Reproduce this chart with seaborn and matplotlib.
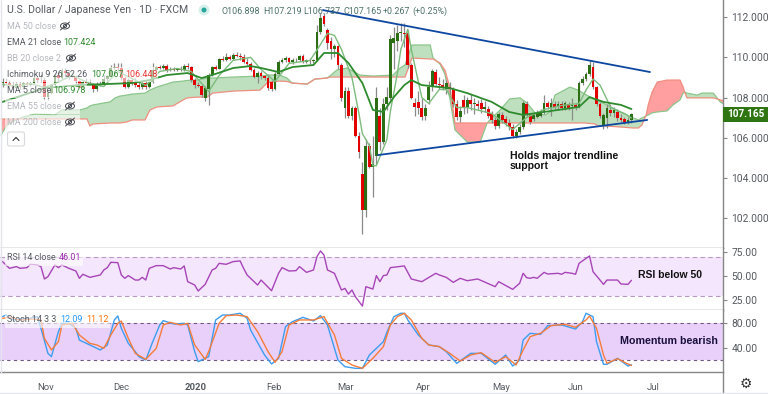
import numpy as np
import matplotlib
matplotlib.use('Agg')
import matplotlib.pyplot as plt
from matplotlib.patches import Ellipse, Circle, Rectangle, FancyBboxPatch
import seaborn as sns

# candles, one entry per daily bar
opens = [108.70,108.75,108.72,108.62,108.45,108.65,108.50,108.70,108.62,108.70,
         108.95,108.85,108.88,108.05,108.20,108.60,109.10,108.95,109.30,109.22,
         109.05,109.02,108.80,108.45,108.75,108.70,108.62,108.40,108.60,108.65,
         108.92,109.05,109.48,109.50,109.45,108.95,108.52,108.85,108.72,108.60,
         108.50,108.70,108.52,108.75,109.35,109.50,109.45,109.58,109.35,109.42,
         109.38,109.42,109.38,109.58,109.50,108.85,108.62,108.58,108.00,108.42,
         109.10,109.50,109.42,109.90,109.85,110.00,109.92,110.12,110.08,110.02,
         109.78,109.65,109.35,109.00,109.20,109.05,108.95,108.75,108.42,109.15,
         109.75,109.85,109.98,109.78,109.85,109.88,110.05,109.78,109.88,109.80,
         109.85,111.25,112.05,111.35,110.80,110.40,110.55,109.60,107.50,108.30,
         107.10,107.50,106.10,104.20,102.40,105.60,104.55,105.10,107.10,105.80,
         107.70,108.00,110.70,110.80,111.20,111.20,111.20,109.60,107.75,107.80,
         107.50,107.10,107.90,108.50,109.25,108.65,108.60,108.40,108.50,108.40,
         107.70,107.05,107.90,107.50,107.90,107.70,107.70,107.75,107.45,107.45,
         107.25,106.90,106.60,107.15,106.95,106.75,106.55,106.10,106.30,106.55,
         107.70,107.15,106.95,107.05,107.10,107.30,107.75,107.50,107.70,107.55,
         107.70,107.50,107.70,107.60,107.65,107.55,108.70,108.90,109.15,109.50,
         108.50,107.70,106.65,107.00,107.40,107.25,107.30,107.00,106.95,106.80,106.898]
highs = [108.95,108.95,108.85,108.78,108.78,108.75,108.78,108.78,108.75,109.05,
         109.05,109.10,109.00,108.35,108.65,109.25,109.20,109.45,109.45,109.30,
         109.25,109.10,108.85,108.85,108.95,108.90,108.70,108.75,108.80,109.10,
         109.10,109.60,109.70,109.70,109.72,109.05,108.95,108.95,108.95,108.75,
         108.75,108.85,108.88,109.70,109.55,109.60,109.68,109.65,109.50,109.50,
         109.48,109.55,109.65,109.70,109.58,108.95,108.75,108.62,108.55,109.20,
         109.55,109.60,109.95,110.05,110.20,110.10,110.20,110.25,110.20,110.15,
         109.95,109.75,109.45,109.30,109.30,109.10,109.15,108.85,109.25,109.85,
         109.95,110.05,110.02,109.95,109.95,110.12,110.15,109.92,109.95,109.90,
         111.60,112.20,112.20,111.45,111.00,110.65,110.60,109.70,108.50,108.50,
         107.60,107.60,106.30,104.80,105.95,105.75,106.10,108.50,107.50,108.00,
         108.50,111.10,111.50,111.60,111.70,111.70,111.35,109.70,108.00,108.30,
         108.00,107.70,108.80,109.40,109.40,109.00,108.90,108.85,108.75,108.50,
         107.90,107.60,108.10,108.05,108.15,108.00,107.90,107.95,107.85,107.60,
         107.35,107.05,107.30,107.30,107.10,106.95,106.70,106.45,106.70,107.85,
         107.85,107.25,107.25,107.40,107.45,108.10,107.85,108.00,107.85,107.85,
         107.85,107.85,107.80,108.00,107.75,108.80,109.05,109.25,109.85,109.75,
         108.55,107.80,107.25,107.70,107.70,107.55,107.45,107.20,107.05,107.05,107.219]
lows = [108.50,108.60,108.55,108.35,108.40,108.40,108.42,108.55,108.58,108.65,
        108.75,108.75,107.90,107.90,108.15,108.55,108.80,108.90,109.00,108.90,
        109.00,108.65,108.40,108.40,108.60,108.60,108.25,108.30,108.55,108.60,
        108.80,109.00,109.40,109.35,108.85,108.45,108.45,108.60,108.50,108.40,
        108.40,108.40,108.45,108.70,109.25,109.40,109.42,109.28,109.30,109.32,
        109.30,109.30,109.30,109.40,108.75,108.45,108.50,108.05,107.85,107.65,
        109.05,109.35,109.40,109.80,109.80,109.88,109.85,110.00,109.88,109.70,
        109.60,109.30,108.95,108.70,108.90,108.85,108.35,108.30,108.35,109.10,
        109.70,109.75,109.70,109.65,109.75,109.82,109.72,109.72,109.65,109.72,
        109.80,111.15,111.55,110.40,109.90,110.00,109.40,107.85,107.00,107.00,
        106.90,106.05,105.00,101.20,102.05,104.50,103.05,104.70,105.40,105.70,
        107.40,107.90,109.40,110.30,110.80,110.50,109.45,107.95,107.10,107.20,
        106.90,106.90,107.70,108.30,108.60,108.40,108.35,108.15,108.10,107.55,
        106.90,106.80,107.20,107.25,107.40,107.20,107.40,107.25,107.30,107.00,
        106.75,106.45,106.50,106.75,106.60,106.40,106.00,106.00,106.20,106.45,
        107.05,106.70,106.85,107.00,107.05,107.20,107.45,107.10,107.45,107.40,
        107.40,107.40,107.40,106.90,107.40,107.50,108.60,108.80,109.05,108.40,
        107.60,107.00,106.45,106.50,107.10,107.05,106.85,106.80,106.70,106.70,106.737]
closes = [108.75,108.72,108.62,108.45,108.65,108.50,108.70,108.62,108.70,108.95,
          108.85,108.88,108.05,108.20,108.60,109.10,108.95,109.30,109.22,109.05,
          109.02,108.80,108.45,108.75,108.70,108.62,108.40,108.60,108.65,108.92,
          109.05,109.48,109.50,109.45,108.95,108.52,108.85,108.72,108.60,108.50,
          108.70,108.52,108.75,109.35,109.50,109.45,109.58,109.35,109.42,109.38,
          109.42,109.38,109.58,109.50,108.85,108.62,108.58,108.12,108.45,109.10,
          109.50,109.42,109.90,109.85,110.00,109.92,110.12,110.08,110.02,109.78,
          109.65,109.35,109.00,109.20,109.05,108.95,108.45,108.42,109.15,109.75,
          109.85,109.98,109.78,109.85,109.88,110.05,109.78,109.88,109.80,109.85,
          111.25,111.95,111.65,110.70,110.40,110.55,109.60,108.00,108.30,107.10,
          107.50,106.10,105.30,102.40,105.60,104.55,104.70,108.00,105.80,107.70,
          108.05,110.90,110.95,111.20,111.25,111.15,109.60,108.00,107.55,107.50,
          107.05,107.50,108.50,109.30,108.65,108.60,108.50,108.70,108.40,107.70,
          107.05,107.35,107.50,107.90,107.70,107.75,107.60,107.45,107.55,107.10,
          106.90,106.60,107.20,106.90,106.75,106.55,106.10,106.30,106.55,107.75,
          107.15,106.80,107.15,107.25,107.35,107.75,107.55,107.75,107.55,107.70,
          107.50,107.75,107.50,107.65,107.50,108.70,108.90,109.15,109.60,108.50,
          107.70,107.10,107.15,107.50,107.25,107.40,107.00,106.90,106.80,106.90,107.165]

# EMA 21
ema_bar = [0,12,22,37,42,47,53,57,60,66,71,74,79,83,89,92,96,99,103,106,109,112,115,
           117,120,125,128,133,140,145,149,155,165,168,172,177,180]
ema_val = [107.78,108.47,108.62,108.72,108.87,109.12,109.22,108.97,109.12,109.47,109.57,
           109.47,109.27,109.52,109.62,110.22,110.22,109.72,108.72,107.38,107.28,108.02,
           108.62,108.87,108.62,108.52,108.47,108.22,107.78,107.28,107.13,107.28,107.53,
           108.02,107.78,107.63,107.424]

# MA 5
ma5_bar = [0,4,8,12,15,20,25,29,33,37,41,45,50,54,59,62,66,71,74,78,82,88,90,93,95,97,
           100,102,103,105,106,107,110,111,113,114,116,117,120,122,125,127,130,133,140,
           146,150,155,160,165,167,169,171,173,174,178,180]
ma5_val = [108.65,108.55,108.70,108.50,108.70,109.10,108.70,108.55,109.30,108.95,108.60,
           109.30,109.45,109.30,108.30,109.10,109.85,110.00,109.40,108.80,109.70,109.85,
           110.37,111.20,111.10,110.40,109.00,107.20,106.20,105.60,104.60,104.60,105.90,
           107.30,109.20,110.40,111.40,110.40,108.00,107.70,108.40,108.40,107.50,107.50,
           107.20,106.40,107.00,107.40,107.60,107.70,108.37,108.92,108.62,107.90,107.50,
           107.20,106.978]

# Ichimoku cloud
cloud_bar = [-0.4,1.3,4.4,5.9,9.3,15,17,22.2,24.2,25,25.9,30.8,32.2,33.6,35.6,37.1,40.8,
             42.2,44.2,48.8,51.7,52.8,55.7,58.5,60.2,66,73.7,75.7,76.6,79.4,81.4,82.9,
             87.2,89.4,92.9,93.7,95.7,98.6,102.3,106,111.8,113.8,115.2,117.2,122.4,123.2,
             125.2,126.6,128.1,129.5,133,136.7,138.7,139.5,142.4,145.2,148.1,150.1,152.4,
             155.3,156.7,158.1,162.4,164.7,166.7,169.6,170.4,172.4,176.8,180.5,182,183,
             184.2,184.8,185.9,187.4,190.2,191.9,193.9,194.8,195.2,195.9,198.8,200.2,
             203.4,204.5,205.4,206.8]
span_a = [106.13,106.63,106.93,107.03,107.18,107.13,107.38,107.38,107.48,107.58,107.63,
          107.78,107.98,108.07,108.12,108.17,108.22,108.37,108.52,108.77,108.82,108.85,
          108.87,108.97,108.97,109.02,109.07,109.10,109.12,109.12,108.97,108.72,108.67,
          108.92,108.97,109.07,109.37,109.47,109.12,109.07,109.12,109.47,109.62,110.62,
          110.62,109.97,109.67,109.17,107.88,106.38,105.78,105.78,106.73,106.88,107.38,
          107.93,107.98,107.73,107.23,107.13,107.28,108.12,108.52,108.37,108.17,107.88,
          107.83,107.68,107.28,106.98,106.88,106.98,107.08,107.13,107.23,107.28,107.33,
          107.63,107.88,108.22,108.27,108.22,108.12,108.22,108.22,107.98,107.78,107.63]
span_b = [106.93,106.93,106.93,106.93,106.93,106.93,106.93,106.93,106.93,106.58,106.68,
          106.73,106.73,106.73,106.78,106.88,106.88,107.38,107.53,107.58,107.88,107.98,
          108.02,108.02,108.22,108.32,108.37,108.72,108.77,108.82,108.80,108.72,108.67,
          108.92,108.97,109.02,109.02,109.02,109.02,109.02,109.02,109.02,109.02,109.97,
          109.92,109.92,109.72,109.37,108.47,106.73,106.73,106.73,106.73,106.73,106.73,
          106.73,106.73,106.73,106.73,106.73,106.73,106.73,106.73,106.73,106.73,106.68,
          106.58,106.58,106.53,106.48,106.48,106.63,107.13,107.63,108.27,108.77,108.87,
          108.87,108.87,108.52,108.27,107.98,107.98,107.98,107.98,107.93,107.88,107.83]

# drawn trendlines
upper_bar = [91.7,185.3]
upper_val = [112.36,109.27]
lower_bar = [107.5,184.5]
lower_val = [105.13,106.88]

# RSI
rsi_bar = [0,1,2,4,5,7,8,10,11,12,
           13,15,16,17,19,21,22,23,25,28,
           29,30,31,33,34,35,36,38,39,40,
           41,42,44,46,48,49,51,52,53,55,
           56,58,60,61,62,64,66,68,69,70,
           73,74,77,79,80,82,84,85,87,89,
           90,91,92,93,95,97,98,99,100,101,
           103,104,106,107,108,109,110,111,115,117,
           120,124,125,127,129,131,133,136,141,142,
           146,148,149,150,151,152,153,155,156,159,
           160,161,163,164,165,168,169,171,172,173,
           176,177,179,180]
rsi_val = [65.5,62,58.5,60.3,58.5,59.2,62.7,62,60.3,47.4,
           49.8,62,59.2,62,58.5,55.7,48.1,52.3,49.1,51.6,
           56.8,59.2,64.8,64.4,51.6,48.1,50.9,46.3,46.3,49.1,
           46.3,58.5,61.3,61.3,57.8,59.2,57.8,61,44.6,41.1,
           34.9,41.8,56.8,58.5,63.7,62.7,65.5,66.2,58.5,51.6,
           41.1,46.3,35.2,53.3,59.2,55.7,56.1,60.3,54.3,56.8,
           70.7,76.6,72.4,56.8,53.3,35.9,37.6,31.7,35.9,28.9,
           19.2,39.4,36.9,50.9,44.6,50.9,51.6,59.2,61,47.4,
           44.6,53.3,51.6,49.1,43.9,48.1,45.6,47.4,39.4,44.6,
           36.6,42.9,53.3,48.8,48.1,49.1,48.1,54.3,52.6,53.3,
           52.3,54.3,53.3,52.3,63.7,71.4,55,46.3,41.8,46.3,
           46.3,42.2,41.8,46.01]

# Stochastic
k_bar = [0,1,3,5,8,10,11,13,14,16,17,19,21,22,25,28,30,32,33,34,36,38,39,41,43,45,46,49,
         52,53,55,56,59,61,63,65,68,70,71,75,77,79,81,83,86,89,91,93,96,98,101,103,105,
         109,110,112,114,115,116,119,122,125,127,130,134,137,141,144,146,148,149,151,154,
         156,160,164,166,167,169,170,172,173,176,179,180]
k_val = [90.9,93.6,85.5,87.1,88.2,90.9,71.8,30.9,25.5,66.4,80,80,71.8,52.7,44.6,36.4,44.6,
         85.5,92,71.8,47.3,33.7,25.5,20,50,77.3,84.4,78.9,80,77.3,33.7,17.3,25.5,85.5,
         93.6,93.6,96.4,88.2,69.1,28.2,13.5,22.8,74.6,82.7,89.8,83.8,92.5,77.3,20,9.1,6.4,
         6.4,28.2,50,65.3,90.9,96.4,96.4,85.5,60.9,44.6,41.9,33.7,14.6,30.9,30.9,13,28.2,
         10.2,20,52.7,63.7,62,76.2,77.3,70.7,82.7,96.4,90.9,50,13,13,22.8,10.2,12.09]
d_bar = [0,2,5,9,11,12,14,16,17,20,22,25,27,29,31,33,34,36,38,41,44,46,48,51,53,55,58,59,
         62,64,67,70,73,76,78,80,82,85,89,92,95,97,100,103,106,109,111,113,115,117,120,122,
         125,128,131,134,137,141,144,147,149,151,154,157,161,164,167,168,170,172,173,176,
         178,180]
d_val = [88.2,89.8,85.5,87.1,85.5,55.5,36.4,50,77.3,80,60.9,47.3,44.6,39.1,60.9,80,83.8,
         55.5,30.9,21.1,39.1,77.3,81.6,77.3,80,44.6,21.1,33.7,80,92.5,93.6,90.9,66.4,33.7,
         16.2,33.7,77.3,85.5,85.5,90.9,60.9,22.8,11.9,6.4,22.8,41.9,77.3,90.9,96.4,85.5,
         55.5,44.6,41.9,30.9,18.4,28.2,32,16.2,25.5,11.9,36.4,58.2,63.7,76.2,78.4,73.5,
         85.5,92,71.8,28.2,14.6,22.2,16.2,11.12]

# tick labels
price_ticks = [102,104,106,108,110,112]
rsi_ticks = [25,50,75]
stoch_ticks = [40,80]
month_bars = [12.4,33.9,55.4,77.7,98.3,120.3,142.7,164.1,186.2]
month_names = ['Nov','Dec','2020','Feb','Mar','Apr','May','Jun','Jul']

GREY = '#868686'
TEXT = '#555a60'
FADED = '#b4b7bd'


def draw_line(ax, x, y, color, lw, zorder=4):
    sns.lineplot(x=x, y=y, ax=ax, color=color, linewidth=lw, sort=False,
                 estimator=None, errorbar=None, legend=False, zorder=zorder)


def style_pane(ax, top, bottom):
    ax.set_position([0, 1 - bottom / 394, 723 / 768, (bottom - top) / 394])
    ax.set_xlim(-0.716, 206.2)
    ax.yaxis.tick_right()
    ax.set_xlabel('')
    ax.set_ylabel('')
    ax.tick_params(axis='y', length=3, width=0.8, color=GREY, labelcolor=TEXT,
                   labelsize=7.4, pad=3)
    ax.tick_params(axis='x', length=3, width=0.8, color=GREY, labelcolor=TEXT,
                   labelsize=6.8, pad=5)
    for side in ['top', 'left']:
        ax.spines[side].set_visible(False)
    for side in ['right', 'bottom']:
        ax.spines[side].set_color(GREY)
        ax.spines[side].set_linewidth(1.0)


sns.set_theme(style='white')
plt.rcParams['font.family'] = ['Roboto', 'DejaVu Sans']

fig = plt.figure(figsize=(7.68, 3.94), dpi=100)
ax_main = fig.add_axes([0, 0.5, 1, 0.5])
ax_rsi = fig.add_axes([0, 0.3, 1, 0.2])
ax_stoch = fig.add_axes([0, 0.1, 1, 0.2])

bars = np.arange(len(closes))
o = np.array(opens)
h = np.array(highs)
l = np.array(lows)
c = np.array(closes)
up = c >= o

# cloud
a = np.array(span_a)
b = np.array(span_b)
ax_main.fill_between(cloud_bar, a, b, where=a >= b, interpolate=True, color='#bfe0bf', lw=0, zorder=1)
ax_main.fill_between(cloud_bar, a, b, where=a < b, interpolate=True, color='#ff9f9f', lw=0, zorder=1)
draw_line(ax_main, cloud_bar, span_a, '#8cc68c', 0.9, zorder=2)
draw_line(ax_main, cloud_bar, span_b, '#ef8f80', 0.9, zorder=2)

# candles
ax_main.vlines(bars, l, h, color='#8a8a8a', lw=0.9, zorder=3)
ax_main.bar(bars[up], (c - o)[up], bottom=o[up], width=0.8, color='#2c6e14', lw=0, zorder=3.5)
ax_main.bar(bars[~up], (c - o)[~up], bottom=o[~up], width=0.8, color='#e30000', lw=0, zorder=3.5)

draw_line(ax_main, ma5_bar, ma5_val, '#7dbb7d', 1.0)
draw_line(ax_main, ema_bar, ema_val, '#2e8b2e', 1.3)
draw_line(ax_main, upper_bar, upper_val, '#0d47a1', 1.3, zorder=5)
draw_line(ax_main, lower_bar, lower_val, '#0d47a1', 1.3, zorder=5)

ax_main.set_ylim(100.519, 112.863)
ax_main.set_yticks(price_ticks)
ax_main.set_yticklabels([f'{t:.3f}' for t in price_ticks])
ax_main.set_xticks([])
style_pane(ax_main, 0, 247.5)

# RSI pane
ax_rsi.axhspan(30, 70, color='#f4e6fc', lw=0, zorder=1)
ax_rsi.axhline(70, color='#b79ac4', lw=0.8, ls=(0, (4, 3)), zorder=2)
ax_rsi.axhline(30, color='#b79ac4', lw=0.8, ls=(0, (4, 3)), zorder=2)
draw_line(ax_rsi, rsi_bar, rsi_val, '#a745b8', 1.0)
ax_rsi.set_ylim(15.6, 80.2)
ax_rsi.set_yticks(rsi_ticks)
ax_rsi.set_yticklabels([f'{t:.2f}' for t in rsi_ticks])
ax_rsi.set_xticks([])
style_pane(ax_rsi, 247.5, 309.5)

# Stoch pane
ax_stoch.axhspan(20, 80, color='#e8d0fb', lw=0, zorder=1)
ax_stoch.axhline(80, color='#6f5a80', lw=0.8, ls=(0, (3, 3)), zorder=2)
ax_stoch.axhline(20, color='#6f5a80', lw=0.8, ls=(0, (3, 3)), zorder=2)
draw_line(ax_stoch, k_bar, k_val, '#3d9df0', 1.0)
draw_line(ax_stoch, d_bar, d_val, '#f57c3a', 1.0)
ax_stoch.set_ylim(0.9, 102.6)
ax_stoch.set_yticks(stoch_ticks)
ax_stoch.set_yticklabels([f'{t:.2f}' for t in stoch_ticks])
ax_stoch.set_xticks(month_bars)
ax_stoch.set_xticklabels(month_names)
style_pane(ax_stoch, 309.5, 371.7)
ax_stoch.get_xticklabels()[2].set_fontweight('bold')

# overlay in pixel coordinates for the chart furniture
ov = fig.add_axes([0, 0, 1, 1], zorder=10)
ov.set_xlim(0, 768)
ov.set_ylim(394, 0)
ov.axis('off')
ov.patch.set_alpha(0)


def label(x, y, s, color=TEXT, size=6.4, **kw):
    return ov.text(x, y, s, color=color, fontsize=size, va='center', ha=kw.pop('ha', 'left'), **kw)


def wash(y, right):
    ov.add_patch(Rectangle((5, y - 7.5), right - 5, 15, fc='white', alpha=0.6, ec='none'))


def eye(x, y):
    ov.add_patch(Ellipse((x, y), 9, 6, fill=False, ec='#45484f', lw=0.7))
    ov.add_patch(Circle((x, y), 1.6, fill=False, ec='#45484f', lw=0.7))
    ov.plot([x - 4.5, x + 4.5], [y + 4, y - 4], color='#45484f', lw=0.7)


label(7, 10, 'U.S. Dollar / Japanese Yen · 1D · FXCM', size=7.6)
ov.add_patch(Circle((204, 10), 5.5, fc='#d8f0ec', ec='none'))
ov.add_patch(Circle((204, 10), 2.5, fc='#26a69a', ec='none'))
for x, s in zip([221, 263, 303, 343, 383, 412],
                ['O106.898', 'H107.219', 'L106.737', 'C107.165', '+0.267', '(+0.25%)']):
    label(x, 11, s, color='#4c7068', size=6.4)

for y, right in zip([26, 42, 58, 74, 90, 106, 122, 258, 320], [78, 100, 80, 158, 87, 80, 80, 83, 110]):
    wash(y, right)

label(7, 26, 'MA 50 close', color=FADED)
eye(65, 26)
label(7, 42, 'EMA 21 close')
label(63, 42, '107.424', color='#2e8b2e')
label(7, 58, 'BB 20 close 2', color=FADED)
eye(71, 58)
label(7, 74, 'Ichimoku 9 26 52 26')
label(91, 74, '107.067', color='#2e8b2e')
label(125, 74, '106.448', color='#e53935')
label(7, 90, 'MA 5 close')
label(53, 90, '106.978', color='#2e8b2e')
label(7, 106, 'EMA 55 close', color=FADED)
eye(70, 106)
label(7, 122, 'MA 200 close', color=FADED)
eye(70, 122)

ov.add_patch(FancyBboxPatch((7.5, 132), 17, 14, boxstyle='round,pad=0,rounding_size=2',
                            fc='white', ec='#d9dadd', lw=0.8))
ov.plot([13, 16, 19], [140.5, 137.5, 140.5], color='#333333', lw=0.8)

# price tag on the scale
ov.add_patch(Rectangle((723, 107), 45, 14.5, fc='#2f7613', ec='none'))
label(746, 114.3, '107.165', color='white', size=7.2, ha='center', fontweight='bold')

ann = ['Liberation Sans', 'DejaVu Sans']
ov.text(510, 160.5, 'Holds major trendline\nsupport', family=ann, fontweight='bold', fontsize=7.6,
        color='#111111', va='center', linespacing=1.0)
ov.text(638, 275, 'RSI below 50', family=ann, fontweight='bold', fontsize=7.5, color='#111111', va='center')
ov.text(620, 340.5, 'Momentum bearish', family=ann, fontweight='bold', fontsize=7.7, color='#1a0f3c', va='center')

label(7, 258, 'RSI 14 close')
label(59, 258, '46.01', color='#9c27b0')
label(7, 320, 'Stoch 14 3 3')
label(60, 320, '12.09', color='#2196f3')
label(86, 320, '11.12', color='#ff6d00')

ov.text(745.5, 384, '\u2699', family='DejaVu Sans', fontsize=10, color='#333333', ha='center', va='center')

# frame bits
ov.plot([723, 723], [372, 394], color=GREY, lw=1.0)
ov.plot([0, 768], [392.5, 392.5], color='#e3e5ec', lw=1.0)
ov.plot([1, 1], [0, 372], color='#e3e5ec', lw=1.0)

fig.savefig('out.png', dpi=100)
